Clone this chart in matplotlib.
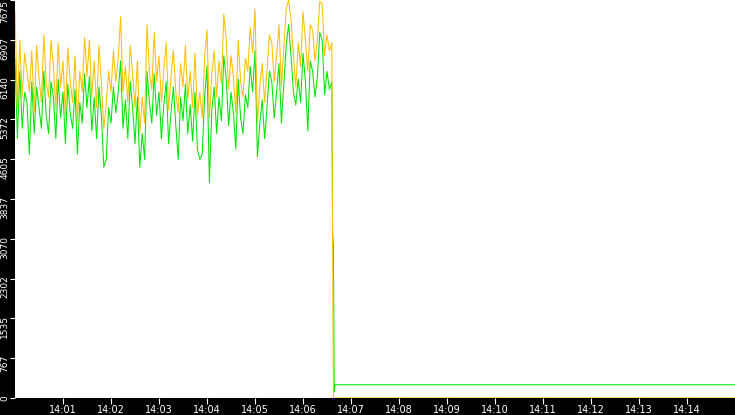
import numpy as np
from matplotlib import pyplot as plt
from matplotlib import transforms

# sample times in seconds after 14:00:00 (one reading every 3 s up to 14:06:36)
t_main = np.arange(0, 397, 3)

orange_main = [
    7450, 5600, 6900, 5800, 6650, 6300, 5900, 6700, 5500, 6800,
    6200, 5700, 7000, 6100, 5800, 6900, 6400, 5600, 6850, 6000,
    6500, 5450, 6750, 6100, 5700, 6600, 5350, 6300, 5900, 6950,
    6200, 6900, 5800, 6500, 5600, 6800, 6050, 5200, 5650, 6300,
    5900, 6700, 6100, 6550, 7350, 5900, 6400, 5700, 6800, 6250,
    5600, 6500, 5100, 5800, 5300, 7200, 6300, 5950, 7050, 6100,
    6600, 5700, 6350, 6850, 5550, 6200, 6700, 5900, 5500, 6450,
    6000, 6800, 5750, 6300, 5600, 6650, 5450, 5900, 5400, 6550,
    7100, 5400, 6250, 6700, 5800, 6500, 6050, 7400, 6900, 5950,
    6600, 6200, 5500, 6900, 6100, 5800, 6550, 6300, 7150, 6650,
    7500, 5300, 6000, 6450, 5700, 6300, 7000, 6850, 6100, 6600,
    7200, 6000, 6750, 7500, 7680, 7300, 6600, 6000, 6850, 6400,
    7450, 6900, 6300, 7200, 7100, 6500, 6900, 7650, 7600, 6600,
    7000, 6700, 6850,
]

green_main = [
    6550, 5000, 6300, 5200, 5900, 5700, 4700, 6100, 5100, 6000,
    5600, 5200, 6300, 5450, 5100, 6100, 5800, 5000, 6150, 5400,
    5900, 4900, 6050, 5500, 5200, 5950, 4700, 5700, 5300, 6250,
    5600, 6200, 5150, 5800, 5000, 6000, 5450, 4450, 4600, 5600,
    5300, 6000, 5500, 5900, 6500, 5200, 5750, 5000, 6100, 5600,
    4900, 5800, 4450, 5100, 4600, 6300, 5700, 5300, 6250, 5450,
    5900, 5000, 5650, 6100, 4900, 5500, 6000, 5250, 4600, 5800,
    5350, 6050, 5100, 5650, 4950, 5900, 4800, 4600, 4700, 5800,
    6400, 4150, 5550, 6000, 5100, 5800, 5350, 6600, 6150, 5250,
    5900, 5500, 4800, 6150, 5400, 5100, 5850, 5600, 6400, 5900,
    6700, 4650, 5300, 5750, 5000, 5600, 6300, 6100, 5400, 5900,
    6450, 5300, 6050, 6800, 7200, 6600, 5900, 5650, 6150, 5700,
    6650, 6100, 5150, 6500, 6300, 5800, 6200, 7050, 6900, 5850,
    6300, 5950, 6100,
]

# after the drop
orange_tail_t = [397, 398, 900]
orange_tail = [3000, 0, 0]
green_tail_t = [397, 398, 399, 400, 900]
green_tail = [3200, 2950, 120, 256, 256]

x_ticks = [60, 120, 180, 240, 300, 360, 420, 480, 540, 600, 660, 720, 780, 840]
x_labels = ['14:01', '14:02', '14:03', '14:04', '14:05', '14:06', '14:07',
            '14:08', '14:09', '14:10', '14:11', '14:12', '14:13', '14:14']
y_ticks = [0, 767.5, 1535, 2302.5, 3070, 3837.5, 4605, 5372.5, 6140, 6907.5, 7675]
y_labels = ['0', '767', '1535', '2302', '3070', '3837', '4605', '5372', '6140', '6907', '7675']

t_orange = list(t_main) + orange_tail_t
v_orange = orange_main + orange_tail
t_green = list(t_main) + green_tail_t
v_green = green_main + green_tail

fig = plt.figure(figsize=(7.35, 4.15), dpi=100, facecolor='black')
ax = fig.add_axes([15 / 735, 17 / 415, 720 / 735, 398 / 415])
ax.set_facecolor('white')
for s in ax.spines.values():
    s.set_visible(False)

ax.plot(t_green, v_green, color='#00e600', lw=0.75)
ax.plot(t_orange, v_orange, color='#ffc000', lw=0.75)

ax.set_xlim(0, 900)
ax.set_ylim(0, 7675)
ax.set_xticks(x_ticks)
ax.set_xticklabels(x_labels)
ax.set_yticks(y_ticks)
ax.set_yticklabels(y_labels, rotation=90, va='top')
ax.tick_params(axis='x', colors='white', length=4, width=0.8, labelsize=7, pad=1)
ax.tick_params(axis='y', colors='white', length=3.5, width=0.8, labelsize=6.5, pad=0.5)

# labels sit a little above the tick, like the original (not the top one, it would be cut)
shift = transforms.ScaledTranslation(0, 3 / 100, fig.dpi_scale_trans)
for lab in ax.get_yticklabels()[:-1]:
    lab.set_transform(lab.get_transform() + shift)

fig.savefig('out.png', dpi=100, facecolor='black')
